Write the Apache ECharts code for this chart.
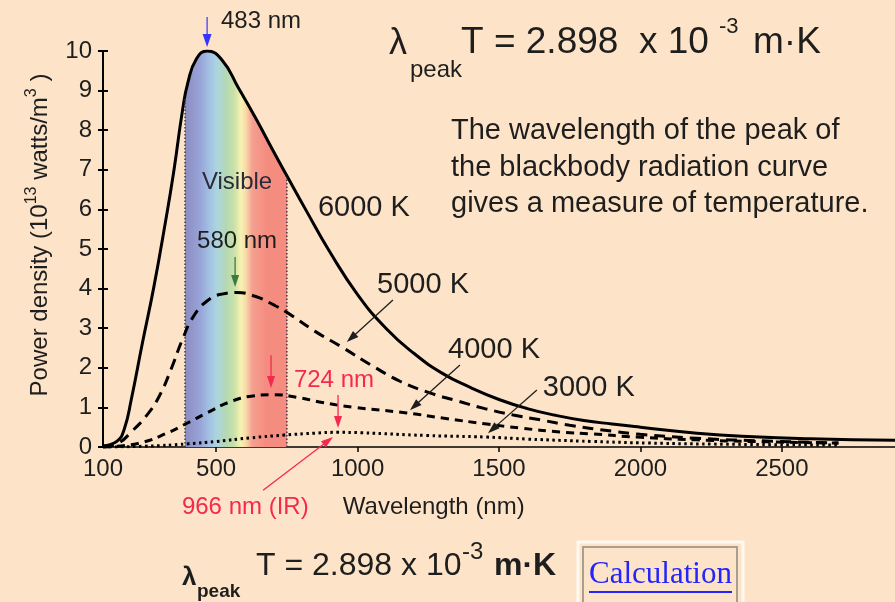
<!DOCTYPE html>
<html><head><meta charset="utf-8">
<script src="https://cdn.jsdelivr.net/npm/echarts@6/dist/echarts.min.js"></script>
<style>html,body{margin:0;padding:0;background:#fde4c8;}#c{width:895px;height:602px;}</style>
</head><body><div id="c"></div>
<script>
// ---- data ----
const wl6000 = [100,150,175,200,240,280,320,350,380,400,430,468,520,580,640,700,750,820,900,1000,1100,1200,1300,1400,1500,1600,1700,1800,1900,2000,2200,2400,2600,2900];
const pd6000 = [0.03,0.15,0.45,1.2,2.65,4.05,5.65,6.95,8.45,9.2,9.8,10.0,9.78,9.05,8.3,7.5,6.85,5.95,4.95,3.85,3.0,2.36,1.86,1.5,1.2,0.97,0.8,0.67,0.58,0.5,0.35,0.26,0.21,0.17];
const wl5000 = [100,150,200,260,300,340,380,420,470,520,573,640,700,750,850,950,1050,1150,1250,1350,1450,1550,1650,1750,1900,2000,2200,2450,2700];
const pd5000 = [0,0.08,0.38,0.85,1.3,1.95,2.7,3.3,3.7,3.86,3.9,3.8,3.6,3.4,2.92,2.5,2.06,1.66,1.38,1.17,0.97,0.81,0.68,0.55,0.4,0.32,0.22,0.15,0.1];
const wl4000 = [100,150,241,326,397,467,549,630,700,790,870,990,1174,1301,1457,1573,1715,1831,1987,2200,2450,2700];
const pd4000 = [0,0.02,0.12,0.35,0.6,0.86,1.14,1.29,1.32,1.25,1.13,1.0,0.86,0.73,0.58,0.48,0.38,0.33,0.25,0.18,0.13,0.1];
const wl3000 = [100,250,400,500,620,740,850,930,1010,1245,1457,1600,1830,2030,2300,2700];
const pd3000 = [0,0.02,0.08,0.14,0.23,0.3,0.35,0.37,0.36,0.29,0.25,0.2,0.14,0.1,0.07,0.05];
const visibleRange = [390, 750];
const visibleEdgeTop = [8.84, 6.82];
const xTickValues = [500,1000,1500,2000,2500];
const xLabelValues = [100,500,1000,1500,2000,2500];
const xRange = [100, 2900];
const yRange = [0, 10];

const zip = (a,b) => a.map((v,i)=>[v,b[i]]);
const FONT = "'Liberation Sans', Arial, Helvetica, sans-serif";
const INK = '#1e1e1e';
const RED = '#f5284f';

// band colours (left -> right through the visible band)
const bandStops = [[0,'#8c8cc0'],[0.15,'#98a4d8'],[0.25,'#a4c4e4'],[0.32,'#acd6dc'],[0.4,'#b4d8b4'],[0.48,'#c8e0a8'],[0.55,'#f8f2b2'],[0.6,'#f8d8a8'],[0.66,'#f4a090'],[0.8,'#f48c80'],[1,'#f48c80']];
const f0 = (visibleRange[0]-xRange[0])/(xRange[1]-xRange[0]);
const f1 = (visibleRange[1]-xRange[0])/(xRange[1]-xRange[0]);
const gradStops = [{offset:0,color:'rgba(0,0,0,0)'},{offset:f0,color:'rgba(0,0,0,0)'}];
bandStops.forEach(s=>gradStops.push({offset:f0+s[0]*(f1-f0),color:s[1]}));
gradStops.push({offset:f1,color:'rgba(0,0,0,0)'},{offset:1,color:'rgba(0,0,0,0)'});

const chart = echarts.init(document.getElementById('c'));
const lineBase = {type:'line', symbol:'none', smooth:0.5, silent:true};
chart.setOption({
  backgroundColor:'#fde4c8',
  animation:false,
  grid:{left:103, right:0, top:51, bottom:155},
  xAxis:{type:'value', min:xRange[0], max:xRange[1],
    axisLine:{lineStyle:{color:'#000', width:1.5}},
    axisTick:{customValues:xTickValues, length:5, lineStyle:{color:'#000', width:1.5}},
    axisLabel:{customValues:xLabelValues, formatter:v=>String(v), fontSize:24, color:INK, fontFamily:FONT, margin:10},
    splitLine:{show:false}},
  yAxis:[{type:'value', min:yRange[0], max:yRange[1], interval:1,
    axisLine:{show:true, lineStyle:{color:'#000', width:2}},
    axisTick:{show:true, length:5, lineStyle:{color:'#000', width:2}},
    axisLabel:{fontSize:24, color:INK, fontFamily:FONT, margin:11},
    splitLine:{show:false}},
   {type:'value', position:'left', min:yRange[0], max:yRange[1], interval:1,
    axisLine:{show:false}, axisTick:{show:true, inside:true, length:5, lineStyle:{color:'#000', width:2}},
    axisLabel:{show:false}, splitLine:{show:false}}],
  series:[
    Object.assign({}, lineBase, {name:'6000 K', data:zip(wl6000,pd6000), z:3,
      lineStyle:{color:'#000', width:3},
      areaStyle:{opacity:1, color:new echarts.graphic.LinearGradient(0,0,1,0,gradStops)}}),
    {type:'line', symbol:'none', silent:true, z:4, data:[[visibleRange[0],0],[visibleRange[0],visibleEdgeTop[0]]],
      lineStyle:{color:'#3a3a4a', width:1.5, type:[1.5,2]}},
    {type:'line', symbol:'none', silent:true, z:4, data:[[visibleRange[1],0],[visibleRange[1],visibleEdgeTop[1]]],
      lineStyle:{color:'#3a3a4a', width:1.5, type:[1.5,2]}},
    Object.assign({}, lineBase, {name:'5000 K', data:zip(wl5000,pd5000), z:5, lineStyle:{color:'#000', width:3, type:[11,7]}}),
    Object.assign({}, lineBase, {name:'4000 K', data:zip(wl4000,pd4000), z:5, lineStyle:{color:'#000', width:3, type:[8,6]}}),
    Object.assign({}, lineBase, {name:'3000 K', data:zip(wl3000,pd3000), z:5, lineStyle:{color:'#000', width:3, type:[2.5,3.5]}})
  ]
});

// ---- annotations (anchored in data coordinates) ----
const P = (x,y) => chart.convertToPixel({xAxisIndex:0, yAxisIndex:0}, [x,y]);
const els = [];
function txt(x, y, text, size, color, align, extra){
  els.push(Object.assign({type:'text', x:x, y:y, z:100, silent:true,
    style:Object.assign({text:text, fontSize:size, fontFamily:FONT, fill:color,
      align:align||'left', textAlign:align||'left', verticalAlign:'middle', textVerticalAlign:'middle'}, extra||{})}));
}
function dtxt(dx, dy, text, size, color, align){ const p=P(dx,dy); txt(p[0],p[1],text,size,color,align); }
function arrow(a, b, color, w, hl, hw){
  const p1=P(a[0],a[1]), p2=P(b[0],b[1]);
  const dx=p2[0]-p1[0], dy=p2[1]-p1[1], L=Math.hypot(dx,dy), ux=dx/L, uy=dy/L;
  const bx=p2[0]-ux*hl, by=p2[1]-uy*hl;
  els.push({type:'line', z:100, silent:true, shape:{x1:p1[0],y1:p1[1],x2:bx+ux*1,y2:by+uy*1}, style:{stroke:color, lineWidth:w}});
  els.push({type:'polygon', z:100, silent:true, shape:{points:[[p2[0],p2[1]],[bx-uy*hw/2,by+ux*hw/2],[bx+uy*hw/2,by-ux*hw/2]]}, style:{fill:color}});
}
arrow([468,10.86],[468,10.1],'#3434ff',1.2,13,9);
dtxt(517,10.76,'483 nm',24,INK);
dtxt(574,6.67,'Visible',24,'#2a2a3a','center');
dtxt(574,5.18,'580 nm',24,INK,'center');
arrow([567,4.80],[567,4.04],'#3d7a3d',1.3,12,8);
dtxt(860,6.04,'6000 K',29,INK);
dtxt(1069,4.09,'5000 K',29,INK);
arrow([1125,3.71],[962,2.65],INK,1.3,12,8);
dtxt(1320,2.45,'4000 K',29,INK);
arrow([1362,2.07],[1185,0.93],INK,1.3,12,8);
dtxt(1655,1.49,'3000 K',29,INK);
arrow([1634,1.44],[1461,0.35],INK,1.3,12,8);
dtxt(775,1.69,'724 nm',24,RED);
arrow([694,2.32],[694,1.49],RED,1.3,12,8);
arrow([931,1.31],[931,0.48],RED,1.3,12,8);
dtxt(379,-1.52,'966 nm (IR)',24,RED);
arrow([666,-1.09],[913,0.25],RED,1.3,12,8);
dtxt(948,-1.52,'Wavelength (nm)',24,INK);

// y axis name
els.push({type:'text', x:38, y:235, rotation:Math.PI/2, z:100, silent:true,
  style:{text:'{a|Power density (10}{s|13}{a| watts/m}{s|3}{a| )}', align:'center', textAlign:'center', verticalAlign:'middle', textVerticalAlign:'middle',
    rich:{a:{fontSize:24, fontFamily:FONT, fill:INK, lineHeight:28, verticalAlign:'bottom'}, s:{fontSize:16, fontFamily:FONT, fill:INK, lineHeight:28, verticalAlign:'top'}}}});

// title formula (top right)
txt(389,44,'λ',36,INK);
txt(410,70,'peak',24,INK);
txt(461,43,'T = 2.898  x 10',37,INK);
txt(719,27,'-3',22,INK);
txt(753,43,'m·K',37,INK);
// paragraph
txt(451,131,'The wavelength of the peak of',29,INK);
txt(451,168,'the blackbody radiation curve',29,INK);
txt(451,204,'gives a measure of temperature.',29,INK);

// bottom formula
txt(182,578,'λ',26,INK,'left',{fontWeight:'bold'});
txt(197,592,'peak',19,INK,'left',{fontWeight:'bold'});
txt(256,566,'T = 2.898 x 10',32,INK);
txt(462,552,'-3',24,INK);
txt(494,566,'m·K',32,INK,'left',{fontWeight:'bold'});
// Calculation box
els.push({type:'rect', z:100, silent:true, shape:{x:578,y:542,width:165,height:70}, style:{fill:'none', stroke:'#fff8f0', lineWidth:3}});
els.push({type:'rect', z:100, silent:true, shape:{x:583,y:547,width:154,height:65}, style:{fill:'none', stroke:'#a89f90', lineWidth:2}});
els.push({type:'text', x:589, y:575, z:101, silent:true, style:{text:'Calculation', fontSize:31, fontFamily:"'Liberation Serif', 'Times New Roman', serif", fill:'#2424ff', align:'left', textAlign:'left', verticalAlign:'middle', textVerticalAlign:'middle'}});
els.push({type:'line', z:101, silent:true, shape:{x1:589,y1:592,x2:732,y2:592}, style:{stroke:'#2424ff', lineWidth:2}});

chart.setOption({graphic:{elements:els}});
</script></body></html>
